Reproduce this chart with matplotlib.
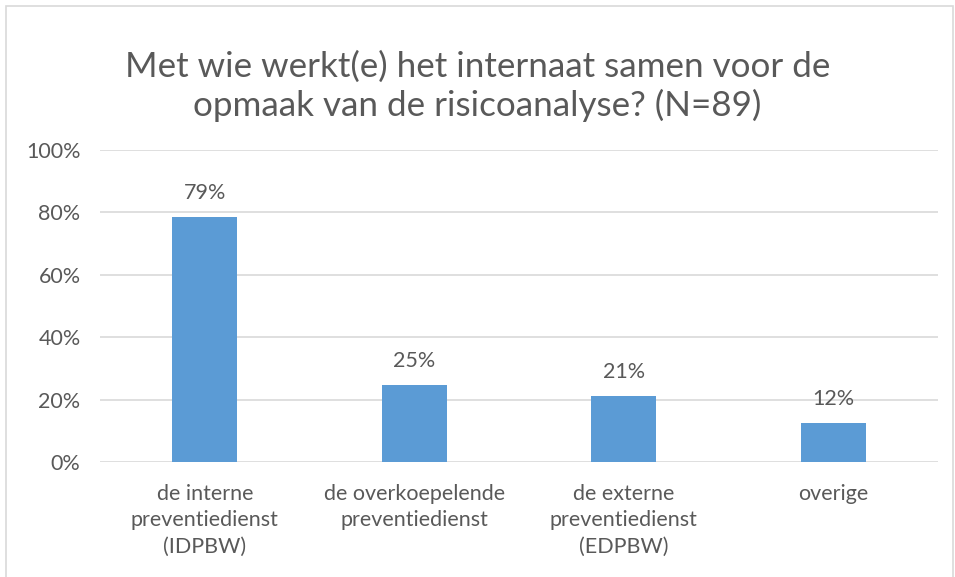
import matplotlib.pyplot as plt
import matplotlib.patches as patches
import numpy as np

# data
categories = ['de interne\npreventiedienst\n(IDPBW)',
              'de overkoepelende\npreventiedienst',
              'de externe\npreventiedienst\n(EDPBW)',
              'overige']
values = [0.785, 0.247, 0.213, 0.124]
labels = ['79%', '25%', '21%', '12%']
yticks = [0, 0.2, 0.4, 0.6, 0.8, 1.0]
ytick_labels = ['0%', '20%', '40%', '60%', '80%', '100%']

grey = '#595959'
plt.rcParams['font.family'] = ['Lato', 'DejaVu Sans']

f = plt.figure(figsize=(9.55, 5.77), dpi=100)
a = f.add_axes([100/955, 115/577, 838/955, 312/577])

x = np.arange(len(categories))
a.bar(x, values, width=0.31, color='#5B9BD5', zorder=3)
for i in range(len(values)):
    a.text(x[i], values[i] + 0.045, labels[i], ha='center', va='bottom',
           fontsize=15.5, color=grey)

a.set_xlim(-0.5, len(categories) - 0.5)
a.set_ylim(0, 1.0)
a.set_yticks(yticks)
a.set_yticklabels(ytick_labels, fontsize=15.5, color=grey)
a.set_xticks(x)
a.set_xticklabels(categories, fontsize=15.5, color=grey, linespacing=1.38)
a.tick_params(axis='both', length=0)
a.tick_params(axis='y', pad=14)
a.tick_params(axis='x', pad=16)
a.grid(axis='y', color='#D9D9D9', linewidth=1.2, zorder=0)
for s in a.spines.values():
    s.set_visible(False)

f.text(0.5, 1 - 116/577, 'Met wie werkt(e) het internaat samen voor de\nopmaak van de risicoanalyse? (N=89)',
       ha='center', va='baseline', fontsize=25.2, color=grey, linespacing=1.22)

# rand om de grafiek
f.patches.append(patches.Rectangle((6/955, -0.1), 947/955, 1.1 - 6/577,
                                   transform=f.transFigure, fill=False,
                                   edgecolor='#D9D9D9', linewidth=1.2))

f.savefig('out.png', dpi=100)
